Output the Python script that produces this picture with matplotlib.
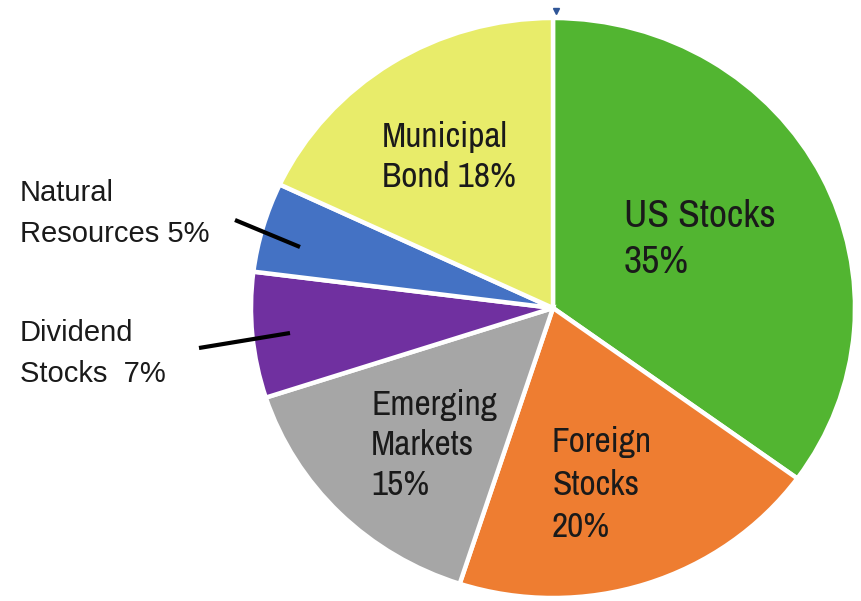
import matplotlib
matplotlib.use("Agg")
import matplotlib.pyplot as plt
from matplotlib import font_manager

labels = ["US Stocks", "Foreign Stocks", "Emerging Markets",
          "Dividend Stocks", "Natural Resources", "Municipal Bond"]
shares = [35, 20, 15, 7, 5, 18]
colors = ["#52b531", "#ee7d31", "#a6a6a6", "#7030a0", "#4472c4", "#e8ec6a"]

inside_text = {
    "US Stocks": "US Stocks\n35%",
    "Foreign Stocks": "Foreign\nStocks\n20%",
    "Emerging Markets": "Emerging\nMarkets\n15%",
    "Municipal Bond": "Municipal\nBond 18%",
}
outside_text = {
    "Natural Resources": "Natural\nResources 5%",
    "Dividend Stocks": "Dividend\nStocks  7%",
}


def pick_font(candidates):
    names = {f.name for f in font_manager.fontManager.ttflist}
    for c in candidates:
        if c in names:
            return c
    return "DejaVu Sans"


narrow = pick_font(["Liberation Sans Narrow", "Arial Narrow", "Archivo Narrow",
                    "PT Sans Narrow", "Roboto Condensed", "Open Sans Condensed"])

W, H = 861, 601
# the source pie is a little squashed: 302 px wide radius, 290 px tall
k = 302 / 290


def px(x, y):
    """pixel position (from top-left) -> data coords"""
    return x, (H - y) * k


fig = plt.figure(figsize=(W / 100, H / 100), dpi=100)
ax = fig.add_axes([0, 0, 1, 1])

cx, cy = px(553, 308)
r = 302
wedges, _ = ax.pie(shares, colors=colors, startangle=90, counterclock=False,
                   center=(cx, cy), radius=r, frame=True,
                   wedgeprops=dict(edgecolor="white", linewidth=3.2))
ax.set_aspect("auto")
ax.set_xlim(0, W)
ax.set_ylim(0, H * k)
ax.axis("off")

# tiny marker sitting above the top of the pie
ax.plot(cx + 3, cy + r * 1.025, marker="v", color="#2f5597", ms=5, clip_on=False)

# (left, baseline of LAST line, font size, line spacing)
inside_layout = {
    "US Stocks": (624, 273, 28.5, 1.40),
    "Foreign Stocks": (552, 537, 25.5, 1.40),
    "Emerging Markets": (371, 495, 25.5, 1.30),
    "Municipal Bond": (382, 187, 25.5, 1.31),
}
for name, txt in inside_text.items():
    x, y, size, ls = inside_layout[name]
    ax.text(*px(x, y), txt, family=narrow, fontsize=size, va="baseline",
            ha="left", linespacing=ls, color="#1a1a1a")

outside_layout = {
    "Natural Resources": ((20, 242), (235, 220), (300, 247)),
    "Dividend Stocks": ((20, 382), (199, 348), (290, 333)),
}
for name, txt in outside_text.items():
    (tx, ty), p0, p1 = outside_layout[name]
    ax.text(*px(tx, ty), txt, family="Liberation Sans", fontsize=21,
            va="baseline", ha="left", linespacing=1.58, color="#1a1a1a")
    x0, y0 = px(*p0)
    x1, y1 = px(*p1)
    ax.plot([x0, x1], [y0, y1], color="black", lw=3, solid_capstyle="butt")

fig.savefig("out.png", dpi=100)
